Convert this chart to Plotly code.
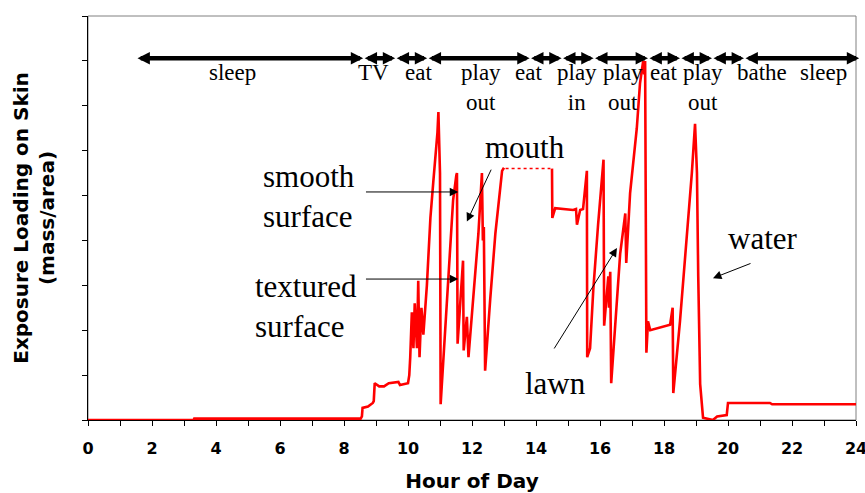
import plotly.graph_objects as go

# ---------------- data ----------------
hours = [0, 3.3, 3.32, 8.52, 8.56, 8.58, 8.75, 8.9, 8.93, 8.96, 9.1, 9.25, 9.4, 9.7, 9.75, 9.95, 10.0,
         10.04, 10.07, 10.12, 10.17, 10.21, 10.28, 10.32, 10.36, 10.42, 10.48, 10.59, 10.70, 10.79,
         10.88, 10.92, 10.95, 10.98, 10.99, 11.0, 11.02, 11.16, 11.32, 11.41, 11.51, 11.53, 11.55,
         11.63, 11.72, 11.74, 11.84, 11.89, 12.04, 12.2, 12.31, 12.34, 12.37, 12.41, 12.57, 12.73,
         12.94, 13.0, None,
         14.5, 14.51, 14.6, 15.16, 15.25, 15.28, 15.38, 15.47, 15.59, 15.6, 15.69, 15.79, 15.94,
         16.11, 16.13, 16.21, 16.26, 16.28, 16.32, 16.35, 16.47, 16.63, 16.79, 16.82, 16.94, 17.15,
         17.25, 17.35, 17.38, 17.41, 17.45, 17.5, 17.57, 18.19, 18.27, 18.29, 18.5, 18.71, 18.87,
         18.97, 19.03, 19.07, 19.13, 19.22, 19.53, 19.66, 19.96, 20.0, 21.31, 21.38, 24.0]
loading = [0, 0, 0.03, 0.03, 0.08, 0.27, 0.3, 0.38, 0.42, 0.82, 0.75, 0.75, 0.82, 0.85, 0.78, 0.82, 0.82,
           1.0, 1.4, 2.4, 1.6, 2.6, 1.6, 3.1, 1.4, 2.5, 1.9, 3.0, 4.5, 5.3,
           6.0, 6.4, 6.86, 5.6, 6.0, 5.5, 0.35, 1.95, 3.8, 4.9, 5.45, 5.5, 1.7,
           2.5, 3.55, 1.55, 2.3, 1.4, 2.7, 4.15, 5.5, 4.0, 4.3, 1.1, 2.7, 4.15,
           5.55, 5.62, None,
           5.6, 4.5, 4.72, 4.68, 4.7, 4.35, 4.68, 4.7, 5.55, 1.4, 1.6, 2.9, 4.35,
           5.8, 2.1, 2.9, 3.2, 2.5, 3.3, 0.82, 2.05, 3.7, 4.6, 3.5, 5.05, 6.5,
           7.5, 8.0, 7.7, 8.0, 1.5, 2.2, 2.0, 2.12, 2.5, 0.6, 2.2, 4.0, 5.5,
           6.6, 5.5, 3.2, 0.8, 0.05, 0.0, 0.08, 0.11, 0.38, 0.38, 0.35, 0.35]

hidden_hours = [13.05, 14.45]
hidden_loading = [5.6, 5.6]

# activity bar
activity_bounds = [1.5, 8.6, 9.6, 10.6, 13.8, 14.8, 15.8, 17.5, 18.5, 19.5, 20.5, 24.1]
activity_level = 8.06
activity_labels = ["sleep", "TV", "eat", "play<br>out", "eat", "play<br>in", "play<br>out",
                   "eat", "play<br>out", "bathe", "sleep"]
activity_label_x = [4.52, 8.92, 10.32, 12.29, 13.76, 15.29, 16.72, 17.97, 19.22, 21.06, 22.97]
activity_label_y = 8.06

# pointer labels
note_texts = ["smooth<br>surface", "textured<br>surface", "mouth", "lawn", "water"]
note_x = [5.42, 5.17, 13.66, 14.6, 21.1]
note_y = [4.97, 2.52, 6.06, 0.82, 4.05]
note_anchor = ["left", "left", "center", "center", "center"]
arrow_tail_x = [8.64, 8.64, 12.62, 14.54, 20.75]
arrow_tail_y = [5.08, 3.14, 5.61, 1.56, 3.5]
arrow_head_x = [11.57, 11.57, 11.84, 16.53, 19.53]
arrow_head_y = [5.08, 3.14, 4.42, 3.83, 3.16]

x_ticks = list(range(0, 25, 2))
y_ticks = list(range(0, 10))

SERIF = "Liberation Serif, Times New Roman, serif"
SANS = "DejaVu Sans, Arial, sans-serif"

fig = go.Figure()
fig.add_trace(go.Scatter(x=hours, y=loading, mode="lines",
                         line=dict(color="#ff0000", width=2.6), connectgaps=False,
                         hoverinfo="skip", showlegend=False))
fig.add_trace(go.Scatter(x=hidden_hours, y=hidden_loading, mode="lines",
                         line=dict(color="#ff0000", width=1.5, dash="dot"),
                         hoverinfo="skip", showlegend=False))

annotations = []
for a, b in zip(activity_bounds[:-1], activity_bounds[1:]):
    annotations.append(dict(x=b, y=activity_level, ax=a, ay=activity_level,
                            xref="x", yref="y", axref="x", ayref="y", text="",
                            showarrow=True, arrowhead=2, startarrowhead=2,
                            arrowside="end+start", arrowwidth=4.5, arrowsize=0.55,
                            startarrowsize=0.55, arrowcolor="black",
                            standoff=0, startstandoff=0))
for t, x in zip(activity_labels, activity_label_x):
    annotations.append(dict(x=x, y=activity_label_y, xref="x", yref="y", text=t,
                            showarrow=False, yanchor="top", xanchor="center",
                            font=dict(family=SERIF, size=23, color="black")))
for t, x, y, anc in zip(note_texts, note_x, note_y, note_anchor):
    annotations.append(dict(x=x, y=y, xref="x", yref="y", text=t, showarrow=False,
                            xanchor=anc, yanchor="middle", align="left",
                            font=dict(family=SERIF, size=31, color="black")))
for tx, ty, hx, hy in zip(arrow_tail_x, arrow_tail_y, arrow_head_x, arrow_head_y):
    annotations.append(dict(x=hx, y=hy, ax=tx, ay=ty, xref="x", yref="y",
                            axref="x", ayref="y", text="", showarrow=True,
                            arrowhead=2, arrowwidth=1, arrowsize=1.7,
                            arrowcolor="black", standoff=0))

fig.update_layout(
    width=865, height=493,
    margin=dict(l=88, r=9, t=16, b=73, autoexpand=False),
    paper_bgcolor="white", plot_bgcolor="white",
    annotations=annotations,
    shapes=[dict(type="rect", xref="paper", yref="paper", x0=0, x1=1, y0=0, y1=1,
                 line=dict(color="#808080", width=1), layer="below")],
    xaxis=dict(range=[0, 24], tickmode="array", tickvals=x_ticks,
               ticks="outside", ticklen=5, tickcolor="black", tickwidth=1,
               minor=dict(dtick=1, ticks="outside", ticklen=5, tickcolor="black"),
               showline=True, linecolor="black", linewidth=1, showgrid=False, zeroline=False,
               ticklabelstandoff=9, ticklabeloverflow="allow", automargin=False,
               tickfont=dict(family=SANS, size=16, color="black", weight="bold"),
               title=dict(text="Hour of Day", standoff=27,
                          font=dict(family=SANS, size=20, color="black", weight="bold"))),
    yaxis=dict(range=[0, 9], tickmode="array", tickvals=y_ticks, showticklabels=False,
               ticks="outside", ticklen=5, tickcolor="black", tickwidth=1, automargin=False,
               showline=True, linecolor="black", linewidth=1, showgrid=False, zeroline=False,
               title=dict(text="Exposure Loading on Skin<br>(mass/area)", standoff=22,
                          font=dict(family=SANS, size=20, color="black", weight="bold"))),
)

# remove the browser's default 8px page margin so the 865x493 figure fills the window
fig.write_html("out.html", config={"displayModeBar": False},
               post_script="document.body.style.margin='0';document.body.style.overflow='hidden';")
